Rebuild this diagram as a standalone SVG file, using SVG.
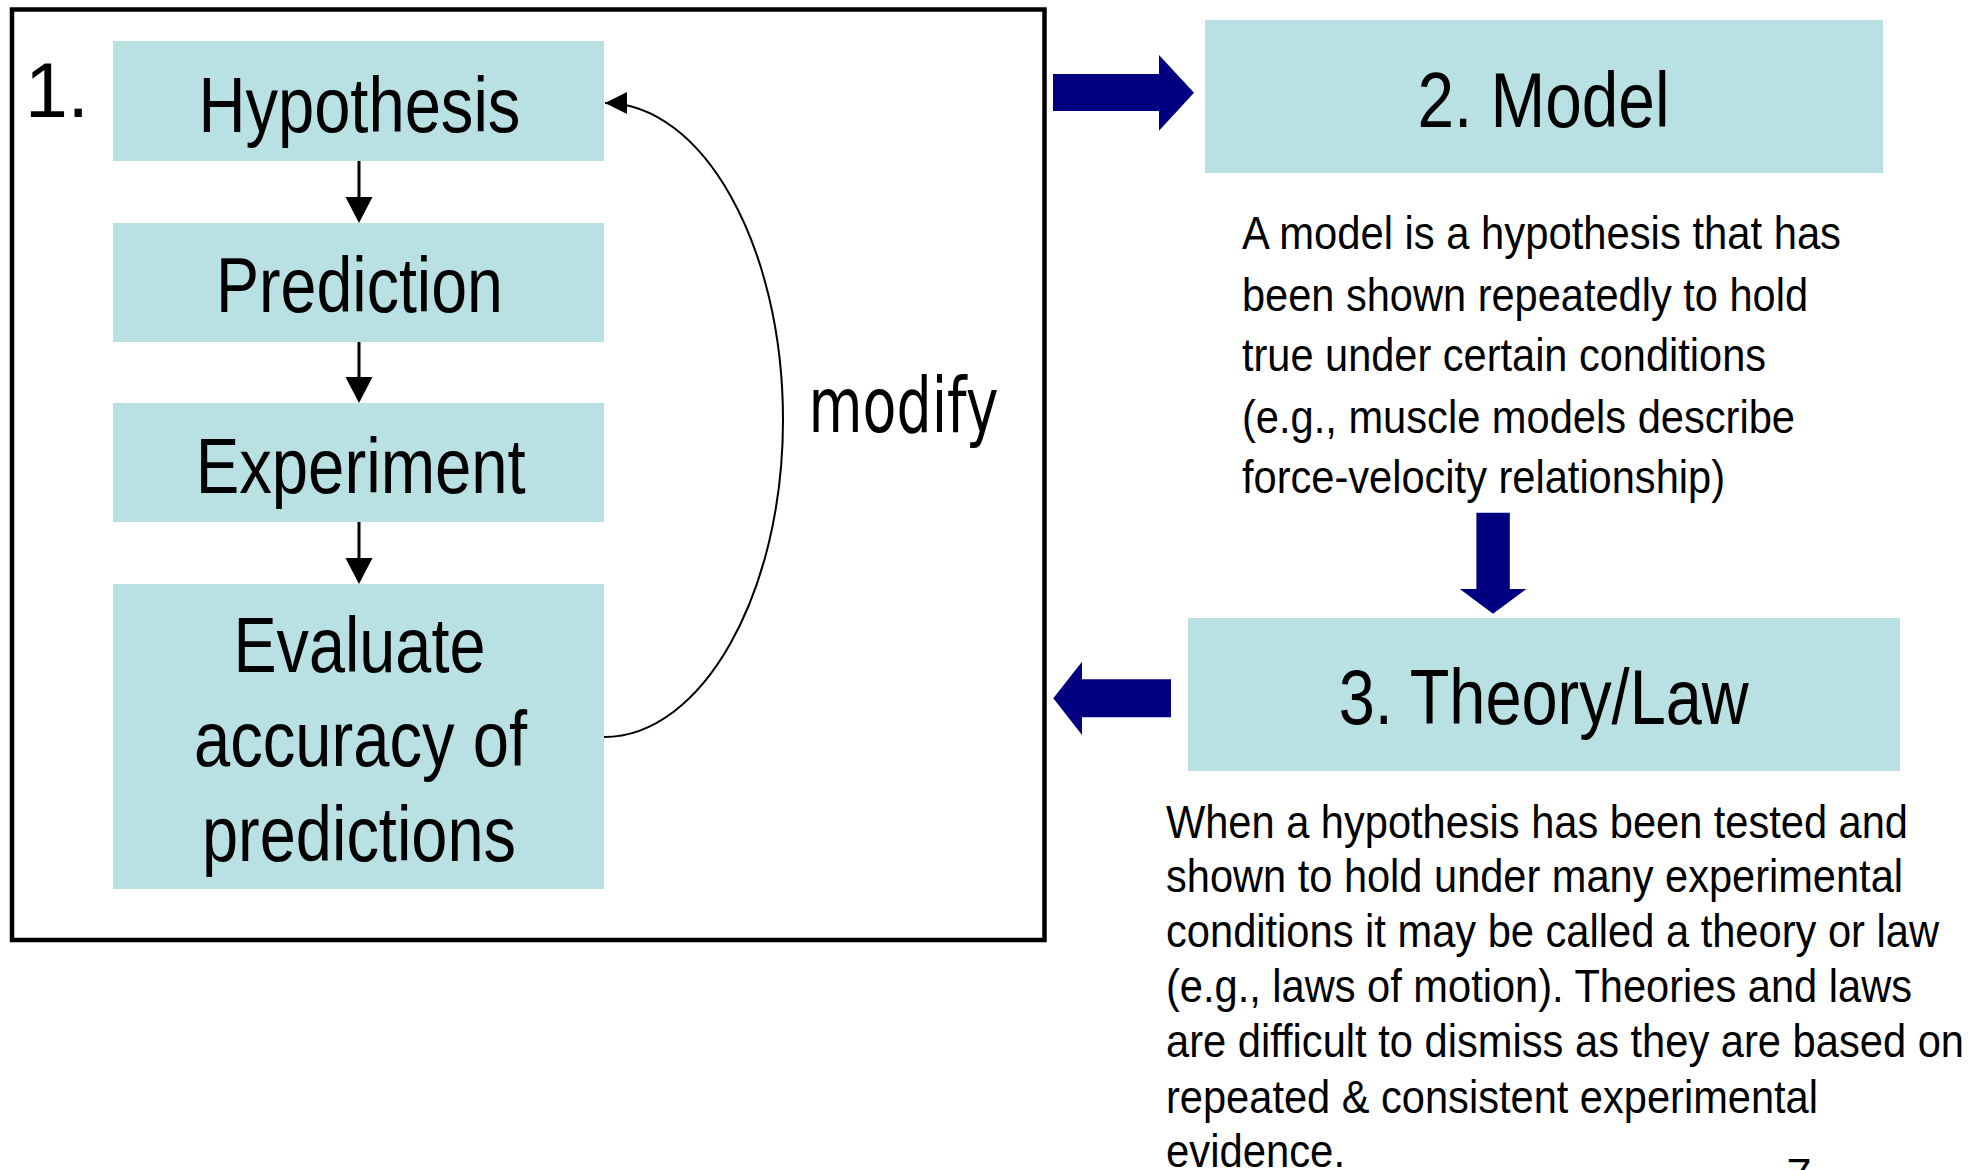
<svg xmlns="http://www.w3.org/2000/svg" width="1984" height="1170" viewBox="0 0 1984 1170">
  <style>
    .box { fill: #B9E0E3; }
    .lbl { font-family: "Liberation Sans Narrow", "Liberation Sans", Arial, sans-serif; font-size: 78px; fill: #000; text-anchor: middle; }
    .par { font-family: "Liberation Sans Narrow", "Liberation Sans", Arial, sans-serif; font-size: 46px; fill: #000; }
    .conn { fill: none; stroke: #000; }
    .big { fill: #000080; }
  </style>
  <defs>
    <marker id="head" markerUnits="userSpaceOnUse" markerWidth="27" markerHeight="27" refX="0" refY="13.5" orient="auto" overflow="visible">
      <path d="M0,0 L26,13.5 L0,27 Z" fill="#000"/>
    </marker>
    <marker id="headS" markerUnits="userSpaceOnUse" markerWidth="23" markerHeight="22" refX="22" refY="11" orient="auto" overflow="visible">
      <path d="M0,0 L22,11 L0,22 Z" fill="#000"/>
    </marker>
  </defs>
  <rect width="1984" height="1170" fill="#fff"/>

  <g id="frame">
    <rect x="12" y="9.5" width="1032.5" height="930.5" fill="none" stroke="#000" stroke-width="4.5"/>
    <text x="25" y="116.7" font-family="'Liberation Sans', Arial, sans-serif" font-size="77" textLength="64" lengthAdjust="spacing">1.</text>
  </g>

  <g id="hypothesis">
    <rect class="box" x="113" y="41" width="491" height="120"/>
    <text class="lbl" x="359.4" y="131.7" textLength="322" lengthAdjust="spacingAndGlyphs">Hypothesis</text>
  </g>
  <g id="prediction">
    <rect class="box" x="113" y="223" width="491" height="119"/>
    <text class="lbl" x="359.5" y="312.3" textLength="287" lengthAdjust="spacingAndGlyphs">Prediction</text>
  </g>
  <g id="experiment">
    <rect class="box" x="113" y="403" width="491" height="119"/>
    <text class="lbl" x="360.7" y="493.3" textLength="330" lengthAdjust="spacingAndGlyphs">Experiment</text>
  </g>
  <g id="evaluate">
    <rect class="box" x="113" y="584" width="491" height="305"/>
    <text class="lbl" x="359.4" y="671.7" textLength="252" lengthAdjust="spacingAndGlyphs">Evaluate</text>
    <text class="lbl" x="360.5" y="765.7" textLength="333" lengthAdjust="spacingAndGlyphs">accuracy of</text>
    <text class="lbl" x="359" y="860.7" textLength="314" lengthAdjust="spacingAndGlyphs">predictions</text>
  </g>

  <g id="model">
    <rect class="box" x="1205" y="20" width="678" height="153"/>
    <text class="lbl" x="1543.5" y="126.7" textLength="252" lengthAdjust="spacingAndGlyphs">2. Model</text>
  </g>
  <g id="model-desc">
    <text class="par" x="1242" y="249.3" textLength="599" lengthAdjust="spacingAndGlyphs">A model is a hypothesis that has</text>
    <text class="par" x="1242" y="310.5" textLength="566" lengthAdjust="spacingAndGlyphs">been shown repeatedly to hold</text>
    <text class="par" x="1242" y="371" textLength="524" lengthAdjust="spacingAndGlyphs">true under certain conditions</text>
    <text class="par" x="1242" y="432.5" textLength="553" lengthAdjust="spacingAndGlyphs">(e.g., muscle models describe</text>
    <text class="par" x="1242" y="493.3" textLength="483" lengthAdjust="spacingAndGlyphs">force-velocity relationship)</text>
  </g>

  <g id="theory">
    <rect class="box" x="1188" y="618" width="712" height="153"/>
    <text class="lbl" x="1543.7" y="724.4" textLength="410" lengthAdjust="spacingAndGlyphs">3. Theory/Law</text>
  </g>
  <g id="theory-desc">
    <text class="par" x="1166" y="837.6" textLength="742" lengthAdjust="spacingAndGlyphs">When a hypothesis has been tested and</text>
    <text class="par" x="1166" y="892.4" textLength="737" lengthAdjust="spacingAndGlyphs">shown to hold under many experimental</text>
    <text class="par" x="1166" y="947.3" textLength="773" lengthAdjust="spacingAndGlyphs">conditions it may be called a theory or law</text>
    <text class="par" x="1166" y="1002.1" textLength="746" lengthAdjust="spacingAndGlyphs">(e.g., laws of motion). Theories and laws</text>
    <text class="par" x="1166" y="1057.3" textLength="798" lengthAdjust="spacingAndGlyphs">are difficult to dismiss as they are based on</text>
    <text class="par" x="1166" y="1112.6" textLength="652" lengthAdjust="spacingAndGlyphs">repeated &amp; consistent experimental</text>
    <text class="par" x="1166" y="1167" textLength="179" lengthAdjust="spacingAndGlyphs">evidence.</text>
  </g>

  <g id="page-number">
    <text x="1786.5" y="1190" font-family="'Liberation Sans', Arial, sans-serif" font-size="45">7</text>
  </g>

  <g id="connectors">
    <path class="conn" stroke-width="3" d="M359,161 L359,197" marker-end="url(#head)"/>
    <path class="conn" stroke-width="3" d="M359,342 L359,377" marker-end="url(#head)"/>
    <path class="conn" stroke-width="3" d="M359,522 L359,558" marker-end="url(#head)"/>
    <path class="conn" stroke-width="2" d="M604,737 C702,737 783,594 783,420 C783,246 703,103 605,103" marker-end="url(#headS)"/>
    <text x="903.5" y="432" text-anchor="middle" font-family="'DejaVu Sans', sans-serif" font-size="77" textLength="190" lengthAdjust="spacingAndGlyphs">modify</text>
    <polygon class="big" points="1053,74 1159,74 1159,55 1194,92.7 1159,130.7 1159,111 1053,111"/>
    <polygon class="big" points="1476.4,512.8 1509.8,512.8 1509.8,588.9 1526.5,588.9 1493,613.7 1459.8,588.9 1476.4,588.9"/>
    <polygon class="big" points="1171,679.3 1082,679.3 1082,661.7 1053.3,698.3 1082,735 1082,717.3 1171,717.3"/>
  </g>
</svg>
